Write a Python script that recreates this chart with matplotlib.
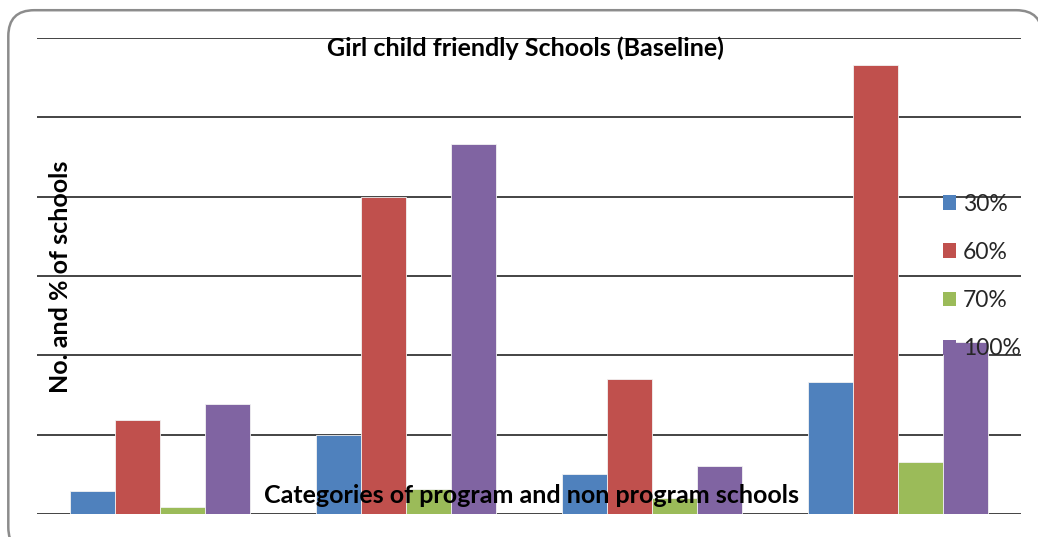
import matplotlib
matplotlib.use("Agg")
import matplotlib.pyplot as plt
import numpy as np
from matplotlib.patches import FancyBboxPatch

plt.rcParams["font.family"] = ["Lato", "DejaVu Sans"]

categories = ["", "", "", ""]
series = ["30%", "60%", "70%", "100%"]
colors = ["#4F81BD", "#C0504D", "#9BBB59", "#8064A2"]
v30 = [2.9, 10.0, 5.0, 16.7]
v60 = [11.9, 40.0, 17.0, 56.6]
v70 = [0.9, 3.2, 2.0, 6.6]
v100 = [13.9, 46.6, 6.0, 21.7]
values = [v30, v60, v70, v100]

fig = plt.figure(figsize=(10.38, 5.37), dpi=100)

# rounded chart-area frame, kept behind the axes (runs off the bottom/right)
frame = FancyBboxPatch((0.008, -0.03), 0.996, 1.011, transform=fig.transFigure,
                       boxstyle="round,pad=0,rounding_size=0.025",
                       facecolor="white", edgecolor="#8c8c8c", lw=1.8,
                       mutation_aspect=1038 / 537, zorder=-5)
fig.patches.append(frame)

ax = fig.add_axes([0.0356, 0.0428, 0.948, 0.8864])
ax.set_facecolor("none")
ax.set_zorder(1)

x = np.arange(len(categories))
w = 0.183
for i, (name, vals, c) in enumerate(zip(series, values, colors)):
    ax.bar(x + (i - 1.5) * w, vals, width=w, color=c, edgecolor="#f2f2f2",
           lw=0.6, label=name, zorder=3)

ax.set_xlim(-0.5, 3.5)
ax.set_ylim(0, 60)
ax.set_yticks(np.arange(0, 61, 10))
ax.set_xticks([])
ax.tick_params(axis="y", length=0, labelleft=False)
ax.yaxis.grid(True, color="#111111", lw=1.1)
ax.set_axisbelow(True)
for s in ax.spines.values():
    s.set_visible(False)

ax.text(0.5065, 0.9106, "Girl child friendly Schools (Baseline)",
        transform=fig.transFigure, ha="center", va="center", fontsize=18,
        fontweight="bold", zorder=5)
ax.text(0.5125, 0.0775, "Categories of program and non program schools",
        transform=fig.transFigure, ha="center", va="center", fontsize=18,
        fontweight="bold", zorder=5)
fig.text(0.058, 0.485, "No. and % of schools", rotation=90,
         ha="center", va="center", fontsize=18, fontweight="bold", zorder=5)

leg = ax.legend(loc="upper left", bbox_to_anchor=(0.897, 0.661),
                bbox_transform=fig.transFigure, frameon=False, fontsize=16.5,
                labelcolor="#262626",
                handlelength=0.6, handleheight=0.6, handletextpad=0.3,
                labelspacing=1.19, borderpad=0)
for h in leg.legend_handles:
    h.set_edgecolor("none")
leg.set_zorder(6)

fig.savefig("out.png", dpi=100)
